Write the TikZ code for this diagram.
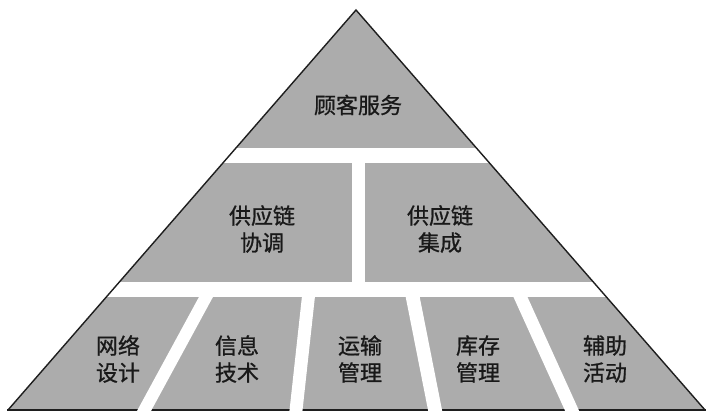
\documentclass[tikz,border=0pt]{standalone}
\usepackage{fontspec}
\newfontfamily\cjk[FakeBold=0.9]{Noto Sans CJK SC}
\definecolor{pyrgray}{RGB}{172,172,172}
\definecolor{edgecol}{RGB}{30,30,30}
\tikzset{
  lbl/.style={font=\cjk\fontsize{22}{27}\selectfont, align=center, text=black!90, inner sep=0pt},
  gap/.style={fill=white, draw=none}
}
\begin{document}
\begin{tikzpicture}[x=1pt,y=-1pt]
\fill[white] (0,0) rectangle (711,415);
\useasboundingbox (0,0) rectangle (711,415);
\coordinate (A) at (356,10);
\coordinate (L) at (8,410);
\coordinate (R) at (705,410);
\fill[pyrgray] (A) -- (L) -- (R) -- cycle;
\begin{scope}
  \clip (A) -- (L) -- (R) -- cycle;
  \fill[gap] (0,148) rectangle (711,163);
  \fill[gap] (0,282) rectangle (711,297);
  \fill[gap] (352,162) rectangle (365,283);
\end{scope}
\draw[edgecol, line width=1.4pt, line join=miter] (L) -- (A) -- (R);
\draw[edgecol, line width=2.6pt] ([xshift=-1]L) -- ([xshift=1]R);
\fill[gap] (199.5,296) -- (213.5,296) -- (148.8,415) -- (134.8,415) -- cycle;
\fill[gap] (302,296) -- (315,296) -- (302,415) -- (289,415) -- cycle;
\fill[gap] (405.5,296) -- (419.5,296) -- (443,415) -- (429,415) -- cycle;
\fill[gap] (513,296) -- (527,296) -- (581,415) -- (567,415) -- cycle;
\node[lbl] (top) at (358,105) {顾客服务};
\node[lbl] (mid1) at (262,229) {供应链\\协调};
\node[lbl] (mid2) at (440,229) {供应链\\集成};
\node[lbl] (b1) at (118,359) {网络\\设计};
\node[lbl] (b2) at (237,359) {信息\\技术};
\node[lbl] (b3) at (360,359) {运输\\管理};
\node[lbl] (b4) at (478,359) {库存\\管理};
\node[lbl] (b5) at (605,359) {辅助\\活动};
\end{tikzpicture}
\end{document}
